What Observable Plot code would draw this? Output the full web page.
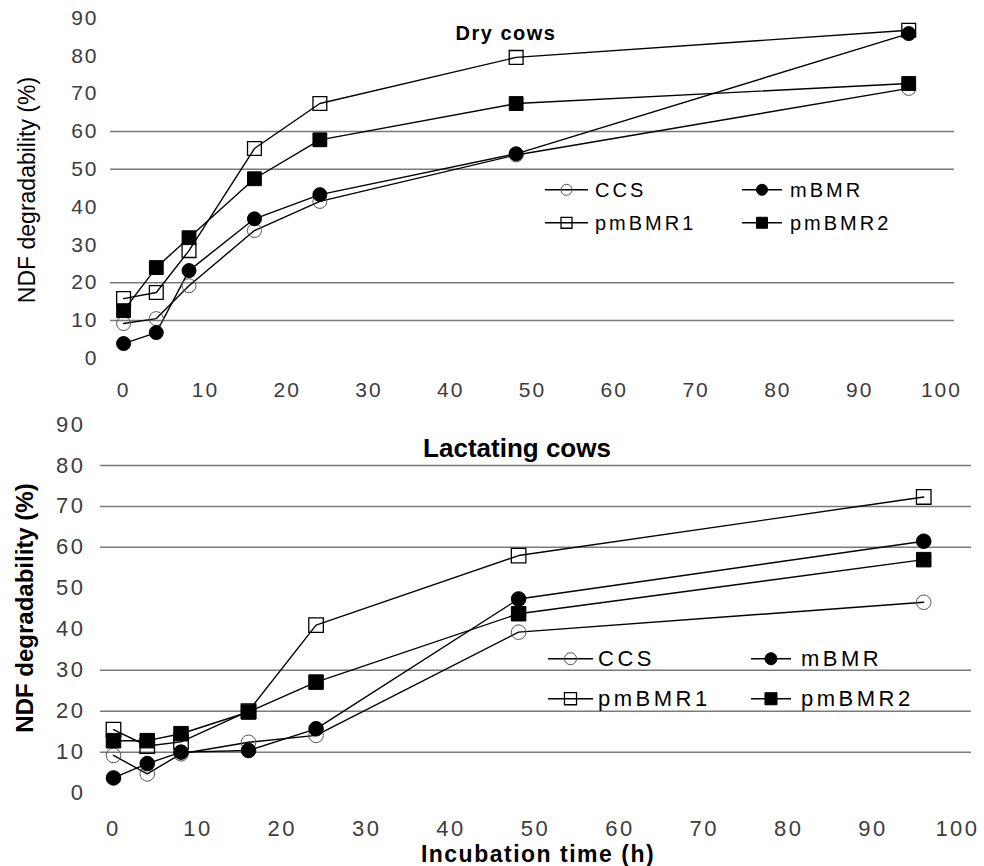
<!DOCTYPE html>
<html>
<head>
<meta charset="utf-8">
<script src="https://cdn.jsdelivr.net/npm/d3@7"></script>
<script src="https://cdn.jsdelivr.net/npm/@observablehq/plot@0.6"></script>
<style>
  body { margin: 0; background: #fff; }
  #chart { position: relative; width: 984px; height: 866px; font-family: Arial, "Liberation Sans", sans-serif; color: #000; overflow: hidden; }
  #chart > svg { position: absolute; left: 0; }
  .lbl { position: absolute; white-space: nowrap; line-height: 1; }
  .leg { position: absolute; white-space: nowrap; display: flex; align-items: flex-start; }
  .leg svg { display: block; }
</style>
</head>
<body>
<div id="chart"></div>
<script>
// ---------------- data ----------------
const times = [0, 4, 8, 16, 24, 48, 96];
const seriesNames = ["CCS", "mBMR", "pmBMR1", "pmBMR2"];

// Dry cows
const dryCCS    = [9.2, 10.5, 19.2, 33.8, 41.5, 53.8, 71.4];
const dryMBMR   = [3.9, 6.8, 23.2, 36.9, 43.3, 54.1, 85.9];
const dryPMBMR1 = [15.8, 17.4, 28.5, 55.5, 67.4, 79.6, 86.8];
const dryPMBMR2 = [12.6, 24.0, 31.9, 47.5, 57.8, 67.4, 72.7];

// Lactating cows
const lacCCS    = [9.2, 4.7, 9.6, 12.4, 14.1, 39.3, 46.6];
const lacMBMR   = [3.7, 7.2, 10.0, 10.4, 15.7, 47.4, 61.5];
const lacPMBMR1 = [15.5, 11.5, 12.5, 20.0, 41.0, 58.0, 72.3];
const lacPMBMR2 = [12.8, 12.8, 14.5, 19.8, 27.1, 43.8, 57.0];

const xTicks = [0, 10, 20, 30, 40, 50, 60, 70, 80, 90, 100];
const yTicks = [0, 10, 20, 30, 40, 50, 60, 70, 80, 90];
const dryGrid = [10, 20, 50, 60];
const lacGrid = [10, 20, 30, 60, 70, 80];

// ---------------- styles ----------------
const seriesStyle = {
  CCS:    {symbol: "circle", fill: "none", stroke: "#555", strokeWidth: 1},
  mBMR:   {symbol: "circle", fill: "#000", stroke: "#000", strokeWidth: 1},
  pmBMR1: {symbol: "square", fill: "none", stroke: "#000", strokeWidth: 1.3},
  pmBMR2: {symbol: "square", fill: "#000", stroke: "#000", strokeWidth: 1}
};
const drawOrder = ["CCS", "pmBMR1", "mBMR", "pmBMR2"];

function toRows(arrs) {
  const rows = [];
  seriesNames.forEach((s, i) => {
    arrs[i].forEach((v, j) => rows.push({series: s, time: times[j], value: v}));
  });
  return rows;
}
const dryRows = toRows([dryCCS, dryMBMR, dryPMBMR1, dryPMBMR2]);
const lacRows = toRows([lacCCS, lacMBMR, lacPMBMR1, lacPMBMR2]);

const FONT = "Arial, 'Liberation Sans', sans-serif";

function panel(rows, grid, o) {
  const marks = [
    Plot.ruleY(grid, {stroke: "#7a7a7a", strokeWidth: 1.5}),
    Plot.line(rows, {x: "time", y: "value", z: "series", stroke: "#000", strokeWidth: 1.4}),
    ...drawOrder.map(s => {
      const st = seriesStyle[s];
      return Plot.dot(rows.filter(d => d.series === s), {
        x: "time", y: "value", symbol: st.symbol,
        r: st.symbol === "square" ? o.sq : o.circ,
        fill: st.fill, stroke: st.stroke, strokeWidth: st.strokeWidth
      });
    }),
    Plot.axisX({ticks: xTicks, tickSize: 0, tickPadding: o.xPad, fontSize: o.tickFont, fill: "#3c3c3c", label: null}),
    Plot.axisY({ticks: yTicks, tickSize: 0, tickPadding: o.yPad, fontSize: o.tickFont, fill: "#3c3c3c", label: null})
  ];
  const svg = Plot.plot({
    width: 984,
    height: o.height,
    marginLeft: o.ml, marginRight: o.mr, marginTop: o.mt, marginBottom: o.mb,
    x: {domain: o.xDomain},
    y: {domain: [0, 90]},
    style: {fontFamily: FONT, letterSpacing: o.ls, background: "transparent", overflow: "visible"},
    marks
  });
  svg.style.top = o.top + "px";
  return svg;
}

const chart = document.getElementById("chart");

chart.appendChild(panel(dryRows, dryGrid, {
  top: 0, height: 410, ml: 110, mr: 30, mt: 17.6, mb: 52.2,
  xDomain: [-1.6, 101.6], xPad: 24, yPad: 12, tickFont: 21, ls: "2px", sq: 7.8, circ: 7
}));
chart.appendChild(panel(lacRows, lacGrid, {
  top: 410, height: 456, ml: 100, mr: 13, mt: 14, mb: 73.4,
  xDomain: [-1.54, 101.66], xPad: 27, yPad: 15, tickFont: 22, ls: "2.5px", sq: 8.2, circ: 7.3
}));

// ---------------- text labels ----------------
function label(text, css) {
  const d = document.createElement("div");
  d.className = "lbl";
  d.textContent = text;
  Object.assign(d.style, css);
  chart.appendChild(d);
}
label("Dry cows", {left: "506px", top: "23px", fontSize: "20px", fontWeight: "bold", letterSpacing: "1.5px", transform: "translateX(-50%)"});
label("Lactating cows", {left: "517px", top: "435px", fontSize: "26px", fontWeight: "bold", transform: "translateX(-50%)"});
label("Incubation time (h)", {left: "538px", top: "843px", fontSize: "23px", fontWeight: "bold", letterSpacing: "1.5px", transform: "translateX(-50%)"});
label("NDF degradability (%)", {left: "27px", top: "190px", fontSize: "23px", transform: "translate(-50%,-50%) rotate(-90deg)"});
label("NDF degradability (%)", {left: "25px", top: "608px", fontSize: "24px", fontWeight: "bold", transform: "translate(-50%,-50%) rotate(-90deg)"});

// ---------------- legends ----------------
function legendItem(name, left, top, swW, gap, fontSize, ls, sizeCirc, sizeSq) {
  const st = seriesStyle[name];
  const div = document.createElement("div");
  div.className = "leg";
  div.style.left = left + "px";
  div.style.top = top + "px";
  div.style.fontSize = fontSize + "px";
  div.style.lineHeight = fontSize + "px";
  div.style.letterSpacing = ls;
  const h = fontSize;
  const cy = fontSize * 0.8465 - fontSize * 0.358;
  const r = st.symbol === "square" ? sizeSq : sizeCirc;
  const area = Math.PI * r * r;
  const sym = d3.symbol(st.symbol === "square" ? d3.symbolSquare : d3.symbolCircle, area)();
  const svg = d3.create("svg").attr("width", swW).attr("height", h);
  svg.append("line").attr("x1", 0).attr("x2", swW).attr("y1", cy).attr("y2", cy)
    .attr("stroke", "#000").attr("stroke-width", 1.4);
  svg.append("path").attr("d", sym).attr("transform", `translate(${swW / 2},${cy})`)
    .attr("fill", st.fill).attr("stroke", st.stroke).attr("stroke-width", st.strokeWidth);
  div.appendChild(svg.node());
  const span = document.createElement("span");
  span.textContent = name;
  span.style.marginLeft = gap + "px";
  div.appendChild(span);
  chart.appendChild(div);
}
// top legend
legendItem("CCS",    545, 180, 43, 7, 20, "3px", 5.5, 6.2);
legendItem("mBMR",   742, 180, 40, 8, 20, "3px", 5.5, 6.2);
legendItem("pmBMR1", 545, 213, 43, 7, 20, "3px", 5.5, 6.2);
legendItem("pmBMR2", 742, 213, 40, 8, 20, "3px", 5.5, 6.2);
// bottom legend
legendItem("CCS",    548, 648, 45, 5, 22, "3.5px", 6, 6.8);
legendItem("mBMR",   751, 648, 40, 10, 22, "3.5px", 6, 6.8);
legendItem("pmBMR1", 548, 688, 45, 5, 22, "3.5px", 6, 6.8);
legendItem("pmBMR2", 751, 688, 40, 10, 22, "3.5px", 6, 6.8);
</script>
</body>
</html>
